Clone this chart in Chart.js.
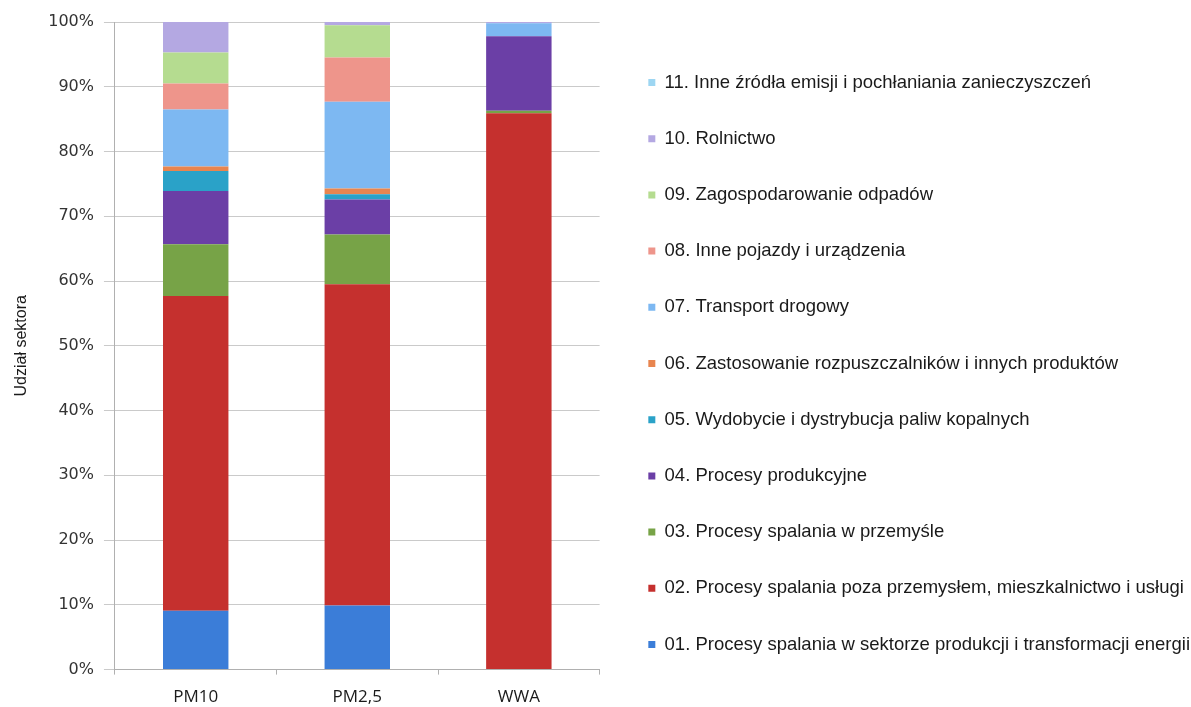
<!DOCTYPE html>
<html lang="pl">
<head>
<meta charset="utf-8">
<title>Udział sektora</title>
<script src="https://cdn.jsdelivr.net/npm/chart.js@4.4.1/dist/chart.umd.min.js"></script>
<style>
    html, body { margin: 0; padding: 0; background: #fff; }
    #wrap { width: 1191px; height: 707px; position: relative; }
</style>
</head>
<body>
<div id="wrap"><canvas id="chartSektory"></canvas></div>
<script>
/* ==============================
   DANE
================================ */
const kategorie = ['PM10', 'PM2,5', 'WWA'];

const s01 = [9.1, 9.9, 0];
const s02 = [48.6, 49.6, 85.9];
const s03 = [8.0, 7.7, 0.4];
const s04 = [8.2, 5.4, 11.5];
const s05 = [3.1, 0.8, 0];
const s06 = [0.7, 0.9, 0];
const s07 = [8.8, 13.4, 2.0];
const s08 = [4.0, 6.8, 0];
const s09 = [4.8, 5.0, 0];
const s10 = [4.7, 0.5, 0.2];
const s11 = [0, 0, 0];

const nazwy = [
    '01. Procesy spalania w sektorze produkcji i transformacji energii',
    '02. Procesy spalania poza przemysłem, mieszkalnictwo i usługi',
    '03. Procesy spalania w przemyśle',
    '04. Procesy produkcyjne',
    '05. Wydobycie i dystrybucja paliw kopalnych',
    '06. Zastosowanie rozpuszczalników i innych produktów',
    '07. Transport drogowy',
    '08. Inne pojazdy i urządzenia',
    '09. Zagospodarowanie odpadów',
    '10. Rolnictwo',
    '11. Inne źródła emisji i pochłaniania zanieczyszczeń'
];

const kolory = [
    '#3b7dd8', '#c5302e', '#77a347', '#6b3fa6', '#2aa2c8', '#e8854f',
    '#7db8f2', '#ee958b', '#b5dc90', '#b4a8e2', '#9dd6f2'
];

const serie = [s01, s02, s03, s04, s05, s06, s07, s08, s09, s10, s11];

const yTicks = [0, 10, 20, 30, 40, 50, 60, 70, 80, 90, 100];

/* ==============================
   przesuniecie legendy (jak w Excelu)
================================ */
const legendShift = {
    id: 'legendShift',
    afterLayout(chart) {
        const lg = chart.legend;
        if (!lg) return;
        lg.left += 11;
        lg.right += 11;
        lg.top -= 7;
        lg.bottom -= 7;
    }
};

/* ==============================
   WYKRES
================================ */
function renderSektory() {

    const ctx = document.getElementById('chartSektory');
    if (!ctx) return;

    const datasets = serie.map((dane, i) => ({
        label: nazwy[i],
        data: dane,
        backgroundColor: kolory[i],
        borderWidth: 0,
        categoryPercentage: 1,
        barPercentage: 0.405
    }));

    return new Chart(ctx, {
        type: 'bar',
        data: { labels: kategorie, datasets },
        plugins: [legendShift],
        options: {
            responsive: true,
            maintainAspectRatio: false,
            animation: false,
            devicePixelRatio: 1,
            layout: { padding: { top: 22, bottom: -12, left: 6, right: 2 } },
            plugins: {
                tooltip: { enabled: false },
                legend: {
                    position: 'right',
                    reverse: true,
                    maxWidth: 620,
                    labels: {
                        boxWidth: 7,
                        boxHeight: 7,
                        padding: 37.7,
                        color: '#1a1a1a',
                        font: { family: '"Liberation Sans", Arial, sans-serif', size: 18.5 }
                    }
                }
            },
            scales: {
                x: {
                    stacked: true,
                    grid: {
                        display: true,
                        drawOnChartArea: false,
                        drawTicks: true,
                        tickLength: 5,
                        color: '#b0b0b0'
                    },
                    border: { color: '#b0b0b0' },
                    ticks: {
                        padding: 12,
                        color: '#1a1a1a',
                        font: { family: '"Open Sans", sans-serif', size: 17 }
                    }
                },
                y: {
                    stacked: true,
                    min: 0,
                    max: 100,
                    afterBuildTicks: axis => {
                        axis.ticks = yTicks.map(v => ({ value: v }));
                    },
                    grid: {
                        color: '#cacaca',
                        tickLength: 11
                    },
                    border: { color: '#b0b0b0' },
                    ticks: {
                        padding: 10,
                        color: '#333',
                        font: { family: '"DejaVu Sans", sans-serif', size: 16 },
                        callback: v => v + '%'
                    },
                    title: {
                        display: true,
                        text: 'Udział sektora',
                        color: '#1a1a1a',
                        padding: { top: 6, bottom: 7 },
                        font: { family: '"Liberation Sans", Arial, sans-serif', size: 16 }
                    }
                }
            }
        }
    });
}

renderSektory();
</script>
</body>
</html>
